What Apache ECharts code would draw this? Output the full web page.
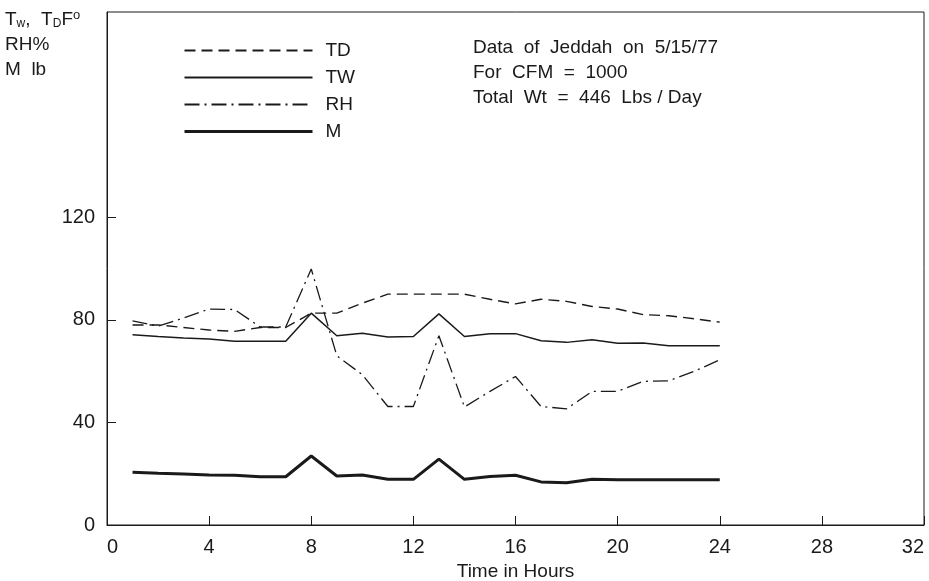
<!DOCTYPE html>
<html>
<head>
<meta charset="utf-8">
<script src="https://cdn.jsdelivr.net/npm/echarts@6/dist/echarts.min.js"></script>
<style>
  html, body { margin: 0; padding: 0; background: #fff; }
  #chart { width: 929px; height: 581px; }
</style>
</head>
<body>
<div id="chart"></div>
<script>
// data, hours 1..24
const hours = [1, 2, 3, 4, 5, 6, 7, 8, 9, 10, 11, 12, 13, 14, 15, 16, 17, 18, 19, 20, 21, 22, 23, 24];
const tdValues = [78, 78, 77, 76, 75.5, 77, 77, 82.6, 82.6, 86.5, 90, 90, 90, 90, 88, 86.2, 88, 87.2, 85.2, 84.2, 82, 81.6, 80.4, 79.1];
const twValues = [74.2, 73.5, 72.9, 72.5, 71.6, 71.6, 71.6, 82.6, 73.8, 74.8, 73.3, 73.5, 82.3, 73.5, 74.6, 74.6, 71.8, 71.2, 72.2, 70.9, 71, 69.9, 69.9, 69.9];
const rhValues = [79.6, 77.5, 80.7, 84.2, 84, 77.2, 77.2, 99.8, 66, 58.6, 46.2, 46.2, 73.8, 46, 52.1, 57.9, 46.2, 45.3, 52.1, 52.1, 56, 56.2, 59.9, 64.4];
const mValues = [20.6, 20.2, 19.9, 19.5, 19.4, 18.8, 18.8, 26.9, 19.1, 19.5, 17.8, 17.8, 25.7, 17.8, 18.9, 19.4, 16.8, 16.5, 17.8, 17.6, 17.6, 17.6, 17.6, 17.6];
const yTicks = [0, 40, 80, 120];
const noteLines = ["Data  of  Jeddah  on  5/15/77", "For  CFM  =  1000", "Total  Wt  =  446  Lbs / Day"];

const ink = "#1a1a1a";
const font = "Liberation Sans, Arial, sans-serif";
const pair = (vals) => hours.map((h, i) => [h, vals[i]]);

const chart = echarts.init(document.getElementById("chart"));
chart.setOption({
  backgroundColor: "#fff",
  animation: false,
  textStyle: { fontFamily: font, color: ink },
  grid: {
    left: 107,
    right: 5,
    top: 12,
    bottom: 56,
    outerBoundsMode: "none",
    show: true,
    borderColor: ink,
    borderWidth: 1,
  },
  title: {
    left: 0,
    top: 2,
    text: "T{sub|w},  T{sub|D}F{sup|o}\nRH%\nM  lb",
    textStyle: {
      fontSize: 19,
      fontWeight: "normal",
      color: ink,
      lineHeight: 25,
      fontFamily: font,
      rich: {
        sub: { fontSize: 12, padding: [9, 0, 0, 0], fontFamily: font, color: ink },
        sup: { fontSize: 13, padding: [0, 0, 9, 0], fontFamily: font, color: ink },
      },
    },
  },
  legend: {
    orient: "vertical",
    left: 178,
    top: 36,
    itemWidth: 128,
    itemHeight: 12,
    itemGap: 8,
    itemStyle: { opacity: 0 },
    textStyle: { fontSize: 19, color: ink, fontFamily: font, padding: [0, 0, 0, 8] },
    data: ["TD", "TW", "RH", { name: "M", lineStyle: { width: 3 } }],
  },
  graphic: [
    {
      type: "text",
      left: 473,
      top: 35,
      style: { text: noteLines.join("\n"), fontSize: 19, lineHeight: 25, fill: ink, fontFamily: font },
    },
  ],
  xAxis: {
    type: "value",
    min: 0,
    max: 32,
    interval: 4,
    name: "Time in Hours",
    nameLocation: "middle",
    nameGap: 35,
    nameTextStyle: { fontSize: 19, color: ink },
    axisLine: { lineStyle: { color: ink, width: 1 } },
    axisTick: { inside: true, length: 9, lineStyle: { color: ink } },
    axisLabel: { fontSize: 20, color: ink, margin: 12, alignMinLabel: "left", alignMaxLabel: "right" },
    splitLine: { show: false },
  },
  yAxis: {
    type: "value",
    min: 0,
    max: 200,
    interval: 40,
    axisLine: { show: true, lineStyle: { color: ink, width: 1 } },
    axisTick: { inside: true, length: 9, lineStyle: { color: ink }, customValues: yTicks },
    axisLabel: { fontSize: 20, color: ink, margin: 12, customValues: yTicks },
    splitLine: { show: false },
  },
  series: [
    {
      name: "TD",
      type: "line",
      symbol: "none",
      data: pair(tdValues),
      itemStyle: { color: ink },
      lineStyle: { color: ink, width: 1.4, type: [11, 6] },
    },
    {
      name: "TW",
      type: "line",
      symbol: "none",
      data: pair(twValues),
      itemStyle: { color: ink },
      lineStyle: { color: ink, width: 1.5 },
    },
    {
      name: "RH",
      type: "line",
      symbol: "none",
      data: pair(rhValues),
      itemStyle: { color: ink },
      lineStyle: { color: ink, width: 1.3, type: [15, 5, 2, 5] },
    },
    {
      name: "M",
      type: "line",
      symbol: "none",
      data: pair(mValues),
      itemStyle: { color: ink },
      lineStyle: { color: ink, width: 3 },
    },
  ],
});
</script>
</body>
</html>
